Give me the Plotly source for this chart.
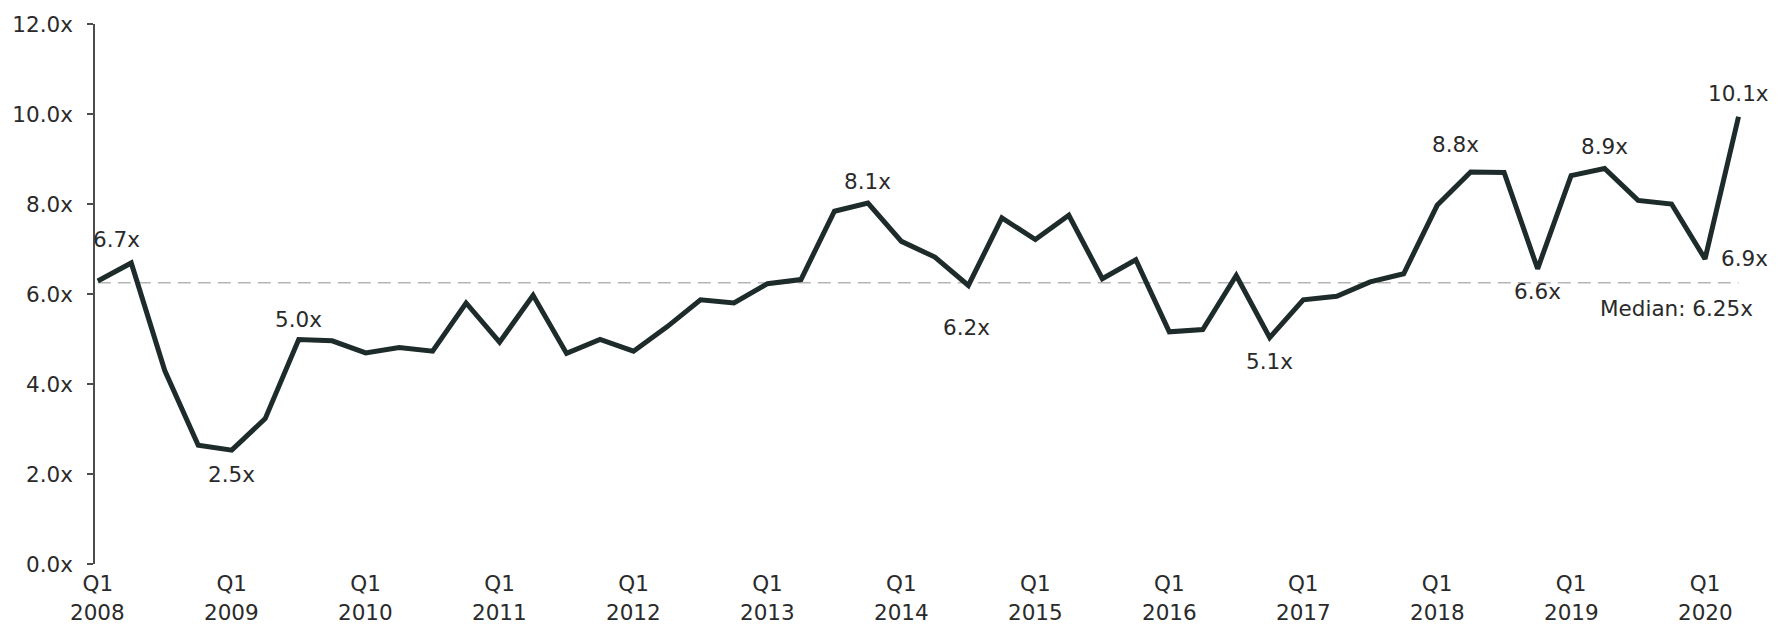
import plotly.graph_objects as go

# ---- data ----
years = list(range(2008, 2021))
quarters = [f"Q{q} {y}" for y in years for q in (1, 2, 3, 4)][:50]
multiples = [6.29, 6.69, 4.30, 2.64, 2.53, 3.23, 4.99, 4.96, 4.69, 4.81,
             4.73, 5.80, 4.93, 5.97, 4.68, 4.99, 4.73, 5.27, 5.87, 5.80,
             6.23, 6.32, 7.84, 8.02, 7.17, 6.82, 6.19, 7.69, 7.21, 7.75,
             6.34, 6.76, 5.16, 5.21, 6.41, 5.03, 5.87, 5.95, 6.27, 6.45,
             7.97, 8.71, 8.70, 6.56, 8.63, 8.79, 8.08, 8.00, 6.78, 9.94]
median_value = 6.25
label_idx = [1, 4, 6, 23, 26, 35, 41, 43, 45, 48, 49]
label_text = ["6.7x", "2.5x", "5.0x", "8.1x", "6.2x", "5.1x", "8.8x", "6.6x", "8.9x", "6.9x", "10.1x"]
y_ticks = [0, 2, 4, 6, 8, 10, 12]
y_ticktext = ["0.0x", "2.0x", "4.0x", "6.0x", "8.0x", "10.0x", "12.0x"]
x_tick_top = ["Q1"] * len(years)
x_tick_year = [str(y) for y in years]

# ---- styling / positions (not data) ----
label_offsets = {1: (-15, 23), 4: (0, -24), 6: (0, 20), 23: (0, 22), 26: (-2, -42),
                 35: (0, -24), 41: (-15, 28), 43: (0, -23), 45: (0, 22), 48: (39, 0),
                 49: (0, 23)}
FONT = "DejaVu Sans"
FS = 21.5
TXT = "#2a2a2a"
LINE = "#1e2b2b"

xs = list(range(len(quarters)))
q1_pos = [quarters.index(f"Q1 {y}") for y in years]

fig = go.Figure()
fig.add_trace(go.Scatter(x=xs, y=multiples, mode="lines",
                         line=dict(color=LINE, width=5), hoverinfo="skip",
                         cliponaxis=False, showlegend=False))

# median line
fig.add_shape(type="line", xref="x", yref="y", x0=0, x1=len(quarters) - 1,
              y0=median_value, y1=median_value,
              line=dict(color="#b5b5b5", width=1.5, dash="13px,7px"), layer="below")
fig.add_annotation(x=len(quarters) - 1, y=median_value, xref="x", yref="y",
                   text=f"Median: {median_value:.2f}x", showarrow=False,
                   xanchor="right", yanchor="middle", xshift=16, yshift=-26,
                   font=dict(family=FONT, size=FS, color=TXT))

for i, t in zip(label_idx, label_text):
    dx, dy = label_offsets[i]
    fig.add_annotation(x=i, y=multiples[i], xref="x", yref="y", text=t,
                       showarrow=False, xanchor="center", yanchor="middle",
                       xshift=dx, yshift=dy,
                       font=dict(family=FONT, size=FS, color=TXT))

for p, yr in zip(q1_pos, x_tick_year):
    fig.add_annotation(x=p, y=0, xref="x", yref="y", text=yr, showarrow=False,
                       xanchor="center", yanchor="middle", yshift=-48,
                       font=dict(family=FONT, size=FS, color=TXT))

fig.update_layout(
    width=1789, height=627, autosize=False,
    margin=dict(l=87, r=17, t=23, b=63),
    paper_bgcolor="white", plot_bgcolor="white",
    font=dict(family=FONT, size=FS, color=TXT),
    xaxis=dict(range=[-0.083, 50], showgrid=False, zeroline=False, showline=False,
               ticks="", tickvals=q1_pos, ticktext=x_tick_top,
               ticklabelstandoff=4, fixedrange=True),
    yaxis=dict(range=[0, 12], showgrid=False, zeroline=False, showline=True,
               linecolor="#4d4d4d", linewidth=1.5, ticks="outside", ticklen=6,
               tickcolor="#4d4d4d", tickwidth=1.5, tickvals=y_ticks,
               ticktext=y_ticktext, ticklabelstandoff=10, fixedrange=True),
)

fig.write_html("out.html")
